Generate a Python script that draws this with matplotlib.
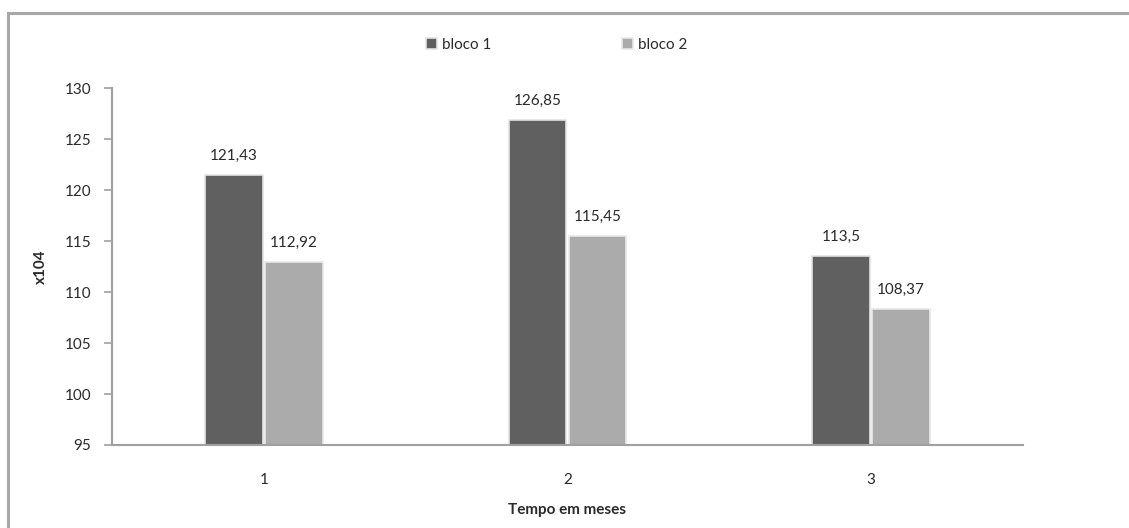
import matplotlib.pyplot as plt
from matplotlib.lines import Line2D
import numpy as np

months = ["1", "2", "3"]
bloco1 = [121.43, 126.85, 113.5]
bloco2 = [112.92, 115.45, 108.37]
labels1 = ["121,43", "126,85", "113,5"]
labels2 = ["112,92", "115,45", "108,37"]
yticks = [95, 100, 105, 110, 115, 120, 125, 130]

DARK = "#606060"
LIGHT = "#ababab"
AXIS = "#a0a0a0"
TEXT = "#2a2a2a"

plt.rcParams["font.family"] = ["Lato", "DejaVu Sans"]

fig = plt.figure(figsize=(11.29, 5.28), dpi=100)
ax = fig.add_axes([0.0992, 0.1572, 0.8068, 0.6761])

x = np.arange(len(months))
w = 0.19
b1 = ax.bar(x - w / 2 - 0.004, bloco1, w, color=DARK, edgecolor="#e4e4e4",
            linewidth=1.2, label="bloco 1", zorder=2)
b2 = ax.bar(x + w / 2 + 0.004, bloco2, w, color=LIGHT, edgecolor="#e8e8e8",
            linewidth=1.2, label="bloco 2", zorder=2)

for rect, txt in zip(b1, labels1):
    ax.text(rect.get_x() + rect.get_width() / 2, rect.get_height() + 1.2, txt,
            ha="center", va="bottom", fontsize=11, color=TEXT)
for rect, txt in zip(b2, labels2):
    ax.text(rect.get_x() + rect.get_width() / 2, rect.get_height() + 1.2, txt,
            ha="center", va="bottom", fontsize=11, color=TEXT)

ax.set_xlim(-0.5, 2.5)
ax.set_ylim(95, 130)
ax.set_yticks(yticks)
ax.set_xticks(x)
ax.set_xticklabels(months)
ax.tick_params(axis="y", colors=AXIS, labelcolor=TEXT, labelsize=11,
               length=6, width=1.2, pad=9)
ax.tick_params(axis="x", length=0, labelcolor=TEXT, labelsize=11, pad=20)

for side in ["top", "right"]:
    ax.spines[side].set_visible(False)
for side in ["left", "bottom"]:
    ax.spines[side].set_color(AXIS)
    ax.spines[side].set_linewidth(1.5)

ax.set_ylabel("x104", fontsize=11, fontweight="bold", color=TEXT, labelpad=12)
ax.set_xlabel("Tempo em meses", fontsize=11, fontweight="bold", color=TEXT,
              labelpad=12)

fig.legend(handles=[b1, b2], loc="center", bbox_to_anchor=(0.493, 0.915),
           ncol=2, frameon=False, fontsize=11, handlelength=0.7,
           handleheight=0.7, handletextpad=0.3, columnspacing=8.6,
           labelcolor=TEXT)

# outer chart frame
fig.add_artist(Line2D([0.0075, 1.0], [0.975, 0.975], color="#a8a8a8", lw=2.2,
                      transform=fig.transFigure))
fig.add_artist(Line2D([0.0075, 0.0075], [0.0, 0.975], color="#a8a8a8", lw=2.2,
                      transform=fig.transFigure))

fig.savefig("out.png", dpi=100, facecolor="white")
